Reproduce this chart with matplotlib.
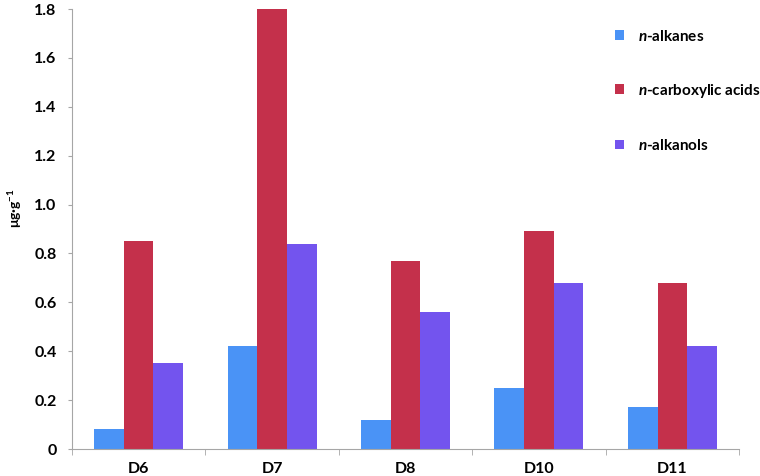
import matplotlib
matplotlib.use("Agg")
import matplotlib.pyplot as plt
import numpy as np

# ========== DATA ==========
samples = ["D6", "D7", "D8", "D10", "D11"]
alkanes = [0.08, 0.42, 0.12, 0.25, 0.17]
carboxylic = [0.85, 1.80, 0.77, 0.89, 0.68]
alkanols = [0.35, 0.84, 0.56, 0.68, 0.42]
series_labels = ["$n$-alkanes", "$n$-carboxylic acids", "$n$-alkanols"]
y_ticks = [0, 0.2, 0.4, 0.6, 0.8, 1.0, 1.2, 1.4, 1.6, 1.8]
y_tick_labels = ["0", "0.2", "0.4", "0.6", "0.8", "1.0", "1.2", "1.4", "1.6", "1.8"]

colors = ["#4A93F6", "#C4304B", "#7354EE"]

# ========== STYLE ==========
plt.rcParams["font.family"] = ["Lato", "DejaVu Sans"]
plt.rcParams["font.weight"] = "bold"
plt.rcParams["mathtext.fontset"] = "custom"
plt.rcParams["mathtext.it"] = "Lato:italic:bold"
plt.rcParams["mathtext.rm"] = "Lato:bold"
plt.rcParams["mathtext.bf"] = "Lato:bold"

fig = plt.figure(figsize=(7.6, 4.76), dpi=100)
ax = fig.add_axes([0.0947, 0.0567, 0.8777, 0.9243])

x = np.arange(len(samples))
w = 0.222
for i, vals in enumerate([alkanes, carboxylic, alkanols]):
    ax.bar(x + (i - 1) * w, vals, width=w, color=colors[i],
           label=series_labels[i], zorder=2)

ax.set_xlim(-0.5, len(samples) - 0.5)
ax.set_ylim(0, 1.8)
ax.set_yticks(y_ticks)
ax.set_yticklabels(y_tick_labels, fontsize=11.5, fontweight="bold")
ax.set_xticks(x)
ax.set_xticklabels(samples, fontsize=11.5, fontweight="bold")
ax.tick_params(axis="x", length=0, pad=9)
ax.set_xticks(np.arange(-0.5, len(samples)), minor=True)
ax.tick_params(axis="x", which="minor", length=4, color="#A6A6A6", direction="out")
ax.tick_params(axis="y", length=3, color="#A6A6A6", direction="out", pad=8)

for side in ["top", "right"]:
    ax.spines[side].set_visible(False)
for side in ["left", "bottom"]:
    ax.spines[side].set_color("#A6A6A6")

ax.set_ylabel(r"μg·g$^{-1}$", fontsize=10, fontweight="bold")
ax.yaxis.set_label_coords(-0.072, 0.548)

ax.legend(loc="upper left", bbox_to_anchor=(0.793, 0.987), frameon=False,
          fontsize=11, handlelength=0.6, handleheight=0.6,
          labelspacing=2.5, handletextpad=0.95)

fig.savefig("out.png", dpi=100)
